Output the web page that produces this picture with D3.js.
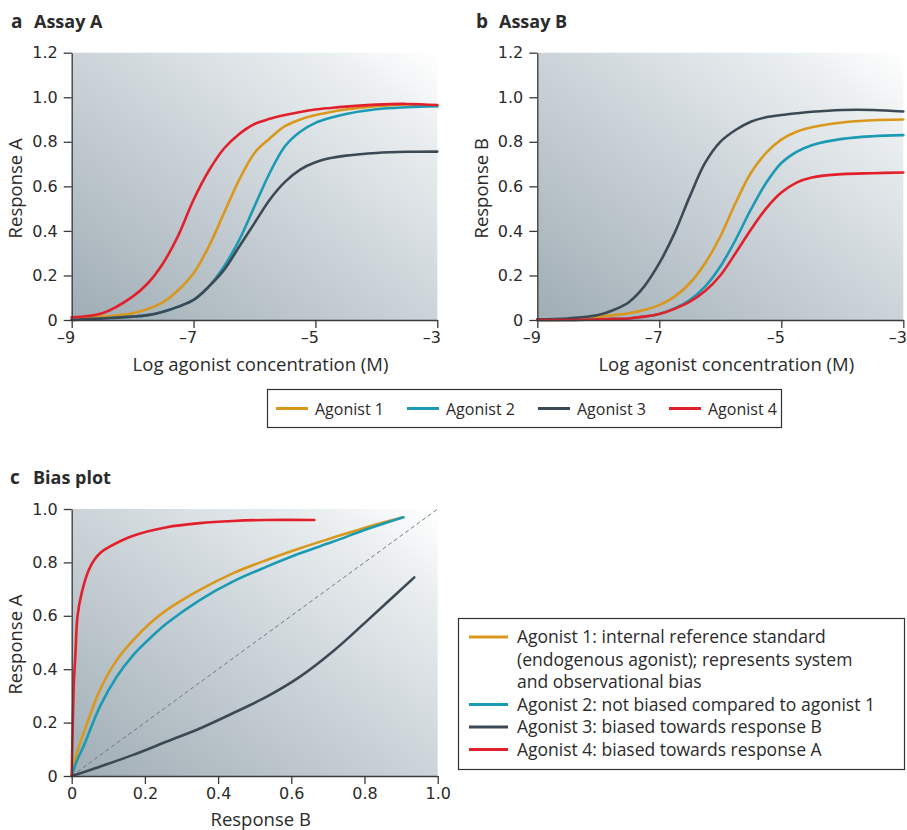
<!DOCTYPE html>
<html>
<head>
<meta charset="utf-8">
<script src="https://cdn.jsdelivr.net/npm/d3@7"></script>
<style>
  body { margin: 0; background: #fff; }
  svg text { font-family: "Open Sans", "Noto Sans", sans-serif; fill: #2b2b2b; }
</style>
</head>
<body>
<div id="chart"></div>
<script>
// ---- data ----
var agonists = ["Agonist 1", "Agonist 2", "Agonist 3", "Agonist 4"];
var colors = ["#d9981b", "#1b9ab3", "#3b4a55", "#e1202b"];

// log agonist concentration (M), shared by assay A and B
var logConc = [-9, -8.5, -8, -7.75, -7.5, -7.25, -7, -6.75, -6.5, -6.25, -6, -5.75, -5.5, -5.25, -5, -4.75, -4.5, -4, -3.5, -3];

// assay A responses
var respA1 = [0.004, 0.015, 0.03, 0.05, 0.08, 0.135, 0.21, 0.33, 0.48, 0.63, 0.75, 0.815, 0.87, 0.9, 0.92, 0.934, 0.945, 0.96, 0.968, 0.96];
var respA2 = [0, 0.007, 0.015, 0.022, 0.037, 0.06, 0.09, 0.15, 0.24, 0.36, 0.51, 0.66, 0.78, 0.845, 0.885, 0.908, 0.925, 0.946, 0.955, 0.96];
var respA3 = [0, 0.007, 0.015, 0.022, 0.037, 0.06, 0.09, 0.15, 0.225, 0.33, 0.435, 0.54, 0.62, 0.675, 0.708, 0.727, 0.738, 0.75, 0.755, 0.756];
var respA4 = [0.012, 0.03, 0.105, 0.165, 0.255, 0.38, 0.54, 0.67, 0.77, 0.835, 0.88, 0.903, 0.92, 0.934, 0.945, 0.952, 0.958, 0.967, 0.97, 0.965];

// assay B responses
var respB1 = [0, 0.003, 0.015, 0.022, 0.03, 0.045, 0.067, 0.105, 0.165, 0.255, 0.375, 0.525, 0.66, 0.75, 0.81, 0.845, 0.865, 0.887, 0.897, 0.9];
var respB2 = [0, 0, 0.003, 0.005, 0.007, 0.015, 0.027, 0.052, 0.09, 0.15, 0.24, 0.36, 0.495, 0.615, 0.705, 0.755, 0.785, 0.813, 0.825, 0.83];
var respB3 = [0.003, 0.007, 0.022, 0.045, 0.08, 0.15, 0.255, 0.39, 0.555, 0.705, 0.8, 0.853, 0.89, 0.91, 0.92, 0.928, 0.935, 0.943, 0.943, 0.936];
var respB4 = [0, 0, 0.003, 0.005, 0.007, 0.015, 0.027, 0.05, 0.082, 0.13, 0.2, 0.3, 0.405, 0.5, 0.572, 0.617, 0.64, 0.655, 0.659, 0.662];

// bias plot: [response B, response A]
var bias1 = [[0, 0], [0.015, 0.09], [0.039, 0.185], [0.077, 0.322], [0.123, 0.434], [0.168, 0.509], [0.214, 0.572], [0.26, 0.622], [0.35, 0.697], [0.44, 0.759], [0.533, 0.809], [0.624, 0.853], [0.715, 0.893], [0.806, 0.932], [0.906, 0.969]];
var bias2 = [[0, 0], [0.015, 0.06], [0.032, 0.11], [0.077, 0.26], [0.123, 0.372], [0.168, 0.453], [0.214, 0.516], [0.26, 0.572], [0.35, 0.659], [0.44, 0.728], [0.533, 0.784], [0.624, 0.834], [0.715, 0.878], [0.806, 0.924], [0.906, 0.969]];
var bias3 = [[0, 0], [0.077, 0.035], [0.168, 0.079], [0.26, 0.129], [0.35, 0.178], [0.44, 0.235], [0.533, 0.297], [0.624, 0.372], [0.715, 0.468], [0.806, 0.58], [0.936, 0.744]];
var bias4 = [[0, 0], [0.003, 0.2], [0.006, 0.35], [0.01, 0.45], [0.016, 0.6], [0.027, 0.684], [0.046, 0.77], [0.062, 0.81], [0.08, 0.838], [0.105, 0.86], [0.168, 0.9], [0.26, 0.932], [0.35, 0.947], [0.44, 0.955], [0.53, 0.959], [0.663, 0.959]];

var xTicksLog = [-9, -7, -5, -3];
var yTicksResp = [0, 0.2, 0.4, 0.6, 0.8, 1.0, 1.2];
var biasTicks = [0, 0.2, 0.4, 0.6, 0.8, 1.0];

var legendCLines = [
  ["Agonist 1: internal reference standard", "(endogenous agonist); represents system", "and observational bias"],
  ["Agonist 2: not biased compared to agonist 1"],
  ["Agonist 3: biased towards response B"],
  ["Agonist 4: biased towards response A"]
];

// ---- svg ----
var svg = d3.select("#chart")
  .append("svg")
    .attr("width", 907)
    .attr("height", 830);

var defs = svg.append("defs");
var grad = defs.append("linearGradient")
    .attr("id", "bg")
    .attr("x1", 0).attr("y1", 1)
    .attr("x2", 1).attr("y2", 0);
grad.append("stop").attr("offset", 0).attr("stop-color", "#a0adb5");
grad.append("stop").attr("offset", 0.5).attr("stop-color", "#ccd4d9");
grad.append("stop").attr("offset", 0.82).attr("stop-color", "#e9edef");
grad.append("stop").attr("offset", 1).attr("stop-color", "#ffffff");

var fmtResp = function(d) { return d === 0 ? "0" : d.toFixed(1); };
var fmtLog = function(d) { return "\u2013" + Math.abs(d); };

function drawPanel(opt) {
  var g = svg.append("g");
  var x = d3.scaleLinear().domain(opt.xDomain).range([opt.left, opt.right]);
  var y = d3.scaleLinear().domain(opt.yDomain).range([opt.bottom, opt.top]);

  g.append("rect")
    .attr("x", opt.left).attr("y", opt.top)
    .attr("width", opt.right - opt.left)
    .attr("height", opt.bottom - opt.top)
    .style("fill", "url(#bg)");

  // title
  g.append("text")
    .attr("x", opt.titleX).attr("y", opt.titleY)
    .style("font-weight", "bold").style("font-size", "19px")
    .text(opt.letter);
  g.append("text")
    .attr("x", opt.titleX + 23).attr("y", opt.titleY)
    .style("font-weight", "bold").style("font-size", "18px")
    .text(opt.title);

  if (opt.diagonal) {
    g.append("line")
      .attr("x1", x(0)).attr("y1", y(0))
      .attr("x2", x(1)).attr("y2", y(1))
      .style("stroke", "#6f7b83")
      .style("stroke-width", 1)
      .style("stroke-dasharray", "4,3");
  }

  var line = d3.line()
    .x(function(d) { return x(d[0]); })
    .y(function(d) { return y(d[1]); })
    .curve(d3.curveCatmullRom.alpha(0.5));

  opt.series.forEach(function(s, i) {
    g.append("path")
      .datum(s)
      .attr("d", line)
      .style("fill", "none")
      .style("stroke", colors[i])
      .style("stroke-width", 2.6)
      .style("stroke-linecap", "round");
  });

  var xAxis = g.append("g")
    .attr("transform", "translate(0," + opt.bottom + ")")
    .call(d3.axisBottom(x).tickValues(opt.xTicks).tickFormat(opt.xFmt).tickSize(8).tickSizeOuter(0).tickPadding(4));
  var yAxis = g.append("g")
    .attr("transform", "translate(" + opt.left + ",0)")
    .call(d3.axisLeft(y).tickValues(opt.yTicks).tickFormat(fmtResp).tickSize(8).tickSizeOuter(0).tickPadding(6));
  [xAxis, yAxis].forEach(function(a) {
    a.select(".domain").style("stroke", "#3a3a3a").style("stroke-width", 1.3);
    a.selectAll(".tick line").style("stroke", "#3a3a3a").style("stroke-width", 1.3);
    a.selectAll(".tick text").style("font-size", "16px").style("fill", "#2b2b2b")
      .style("font-family", "'DejaVu Sans', sans-serif");
  });
  if (opt.logAxis) {
    xAxis.selectAll(".tick text").attr("dx", "-6");
  }

  g.append("text")
    .attr("x", (opt.left + opt.right) / 2 + 6)
    .attr("y", opt.bottom + opt.xLabelDy)
    .attr("text-anchor", "middle")
    .style("font-size", "18.5px")
    .text(opt.xLabel);
  g.append("text")
    .attr("transform", "translate(" + opt.yLabelX + "," + ((opt.top + opt.bottom) / 2 + 2) + ") rotate(-90)")
    .attr("text-anchor", "middle")
    .style("font-size", "18.5px")
    .text(opt.yLabel);
}

function zipLog(vals) {
  return logConc.map(function(c, i) { return [c, vals[i]]; });
}

drawPanel({
  letter: "a", title: "Assay A", titleX: 11, titleY: 28,
  left: 71.7, right: 437.3, top: 52.7, bottom: 320,
  xDomain: [-9, -3], yDomain: [0, 1.2], logAxis: true,
  xTicks: xTicksLog, yTicks: yTicksResp, xFmt: fmtLog,
  xLabel: "Log agonist concentration (M)", xLabelDy: 51,
  yLabel: "Response A", yLabelX: 22,
  series: [zipLog(respA1), zipLog(respA2), zipLog(respA3), zipLog(respA4)]
});

drawPanel({
  letter: "b", title: "Assay B", titleX: 476, titleY: 28,
  left: 537.3, right: 903.3, top: 52.7, bottom: 320,
  xDomain: [-9, -3], yDomain: [0, 1.2], logAxis: true,
  xTicks: xTicksLog, yTicks: yTicksResp, xFmt: fmtLog,
  xLabel: "Log agonist concentration (M)", xLabelDy: 51,
  yLabel: "Response B", yLabelX: 488,
  series: [zipLog(respB1), zipLog(respB2), zipLog(respB3), zipLog(respB4)]
});

drawPanel({
  letter: "c", title: "Bias plot", titleX: 10, titleY: 484,
  left: 71.7, right: 437.7, top: 509, bottom: 776,
  xDomain: [0, 1], yDomain: [0, 1],
  xTicks: biasTicks, yTicks: biasTicks, xFmt: fmtResp,
  xLabel: "Response B", xLabelDy: 50,
  yLabel: "Response A", yLabelX: 22,
  diagonal: true,
  series: [bias1, bias2, bias3, bias4]
});

// ---- legend for a/b ----
var legTop = svg.append("g");
legTop.append("rect")
  .attr("x", 267.5).attr("y", 389.5).attr("width", 514).attr("height", 38)
  .style("fill", "#fff").style("stroke", "#333").style("stroke-width", 1.2);
var legX = [276, 407, 538, 669];
agonists.forEach(function(name, i) {
  legTop.append("line")
    .attr("x1", legX[i]).attr("x2", legX[i] + 32)
    .attr("y1", 408.5).attr("y2", 408.5)
    .style("stroke", colors[i]).style("stroke-width", 3);
  legTop.append("text")
    .attr("x", legX[i] + 39).attr("y", 414.5)
    .style("font-size", "16px")
    .text(name);
});

// ---- legend for c ----
var legC = svg.append("g");
legC.append("rect")
  .attr("x", 458.5).attr("y", 618.5).attr("width", 446).attr("height", 151)
  .style("fill", "#fff").style("stroke", "#333").style("stroke-width", 1.2);
var row = 0;
legendCLines.forEach(function(lines, i) {
  var yy = 637 + row * 22.5;
  legC.append("line")
    .attr("x1", 469).attr("x2", 508)
    .attr("y1", yy).attr("y2", yy)
    .style("stroke", colors[i]).style("stroke-width", 3);
  lines.forEach(function(t, j) {
    legC.append("text")
      .attr("x", 517).attr("y", yy + 6 + j * 22.5)
      .style("font-size", "17.5px")
      .text(t);
  });
  row += lines.length;
});
</script>
</body>
</html>
